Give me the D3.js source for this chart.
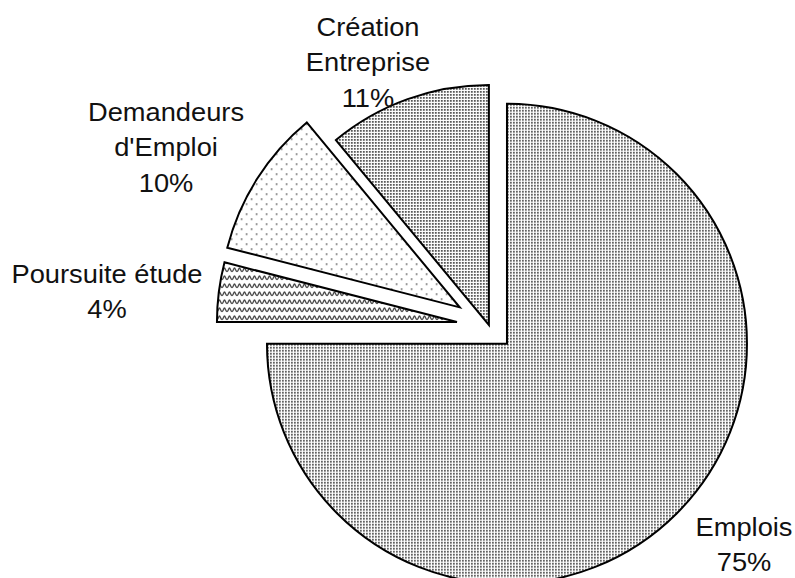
<!DOCTYPE html>
<html>
<head>
<meta charset="utf-8">
<script src="https://cdn.jsdelivr.net/npm/d3@7"></script>
<style>
  body { margin: 0; background: #fff; }
  svg { display: block; }
  text { font-family: "Liberation Sans", Arial, sans-serif; fill: #111; }
</style>
</head>
<body>
<svg id="chart" width="795" height="578"></svg>
<script>
// data
const categories = ["Emplois", "Poursuite étude", "Demandeurs d'Emploi", "Création Entreprise"];
const values = [75, 4, 10, 11];
const labelLines = [["Emplois", "75%"], ["Poursuite étude", "4%"], ["Demandeurs", "d'Emploi", "10%"], ["Création", "Entreprise", "11%"]];

// layout
const width = 795, height = 578;
const cx = 489.3, cy = 326.1, radius = 240;
const explode = [25, 32.6, 35, 1.2];
const fills = ["url(#dotsFine)", "url(#waves)", "url(#dotsSparse)", "url(#dotsFine2)"];
const labelPos = [[744, 536], [107, 283], [166, 121], [368, 36]];
const lineGap = 35.5;

const svg = d3.select("#chart");
const defs = svg.append("defs");

function dotPattern(id, size, dot, color, offsets) {
  const p = defs.append("pattern")
      .attr("id", id)
      .attr("patternUnits", "userSpaceOnUse")
      .attr("width", size).attr("height", size);
  p.append("rect").attr("width", size).attr("height", size).attr("fill", "#fff");
  offsets.forEach(o => {
    p.append("rect")
        .attr("x", o[0]).attr("y", o[1])
        .attr("width", dot).attr("height", dot)
        .attr("fill", color);
  });
}
dotPattern("dotsFine", 3, 1.8, "#5a5a5a", [[0, 0]]);
dotPattern("dotsFine2", 3, 1.8, "#555", [[0, 0]]);
dotPattern("dotsSparse", 10, 1.6, "#666", [[1, 1], [6, 6]]);

// zigzag waves for "Poursuite étude"
const wp = defs.append("pattern")
    .attr("id", "waves")
    .attr("patternUnits", "userSpaceOnUse")
    .attr("width", 10).attr("height", 8);
wp.append("rect").attr("width", 10).attr("height", 8).attr("fill", "#fff");
wp.append("path")
    .attr("d", "M0,5.5 C1.5,5.5 1.5,2 2.5,2 C3.5,2 3.5,5.5 5,5.5 C6.5,5.5 6.5,2 7.5,2 C8.5,2 8.5,5.5 10,5.5")
    .attr("fill", "none")
    .attr("stroke", "#444")
    .attr("stroke-width", 1.3);

const pie = d3.pie().sort(null).startAngle(0).endAngle(2 * Math.PI);
const arcs = pie(values);
const arc = d3.arc().innerRadius(0).outerRadius(radius);

const g = svg.append("g").attr("transform", `translate(${cx},${cy})`);

g.selectAll("path.slice")
  .data(arcs)
  .join("path")
    .attr("class", "slice")
    .attr("d", arc)
    .attr("fill", (d, i) => fills[i])
    .attr("stroke", "#000")
    .attr("stroke-width", 2)
    .attr("stroke-linejoin", "miter")
    .attr("transform", (d, i) => {
      const mid = (d.startAngle + d.endAngle) / 2;
      return `translate(${Math.sin(mid) * explode[i]},${-Math.cos(mid) * explode[i]})`;
    });

// labels
const lab = svg.selectAll("g.label")
  .data(arcs)
  .join("g")
    .attr("class", "label")
    .attr("transform", (d, i) => `translate(${labelPos[i][0]},${labelPos[i][1]}) scale(1.07,1)`);

lab.each(function(d, i) {
  d3.select(this).selectAll("text")
    .data(labelLines[i])
    .join("text")
      .attr("x", 0)
      .attr("y", (t, j) => j * lineGap)
      .attr("text-anchor", "middle")
      .attr("font-size", 25.5)
      .text(t => t);
});
</script>
</body>
</html>
